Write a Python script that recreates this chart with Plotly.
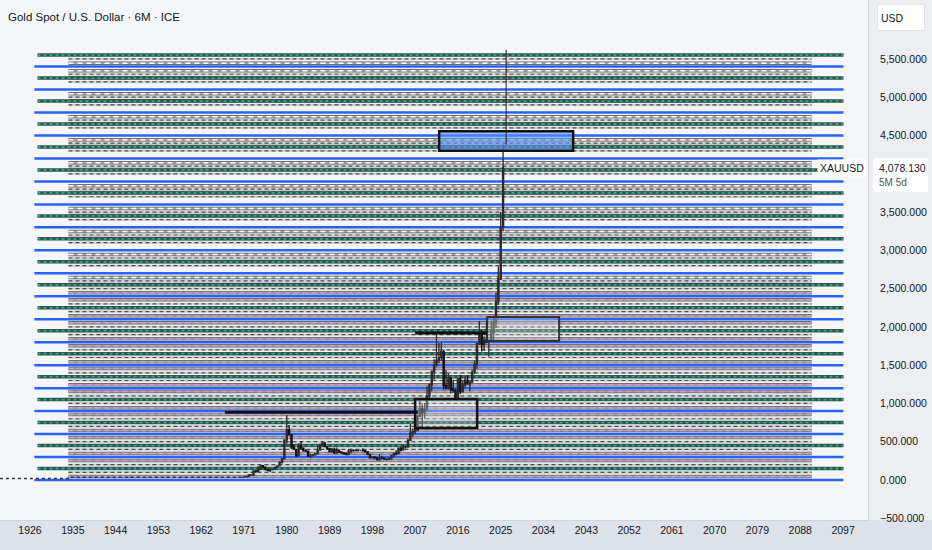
import plotly.graph_objects as go

# --- 6M candles, XAUUSD ---
periods = [
    "1971-01", "1971-07", "1972-01", "1972-07", "1973-01", "1973-07", "1974-01", "1974-07",
    "1975-01", "1975-07", "1976-01", "1976-07", "1977-01", "1977-07", "1978-01", "1978-07",
    "1979-01", "1979-07", "1980-01", "1980-07", "1981-01", "1981-07", "1982-01", "1982-07",
    "1983-01", "1983-07", "1984-01", "1984-07", "1985-01", "1985-07", "1986-01", "1986-07",
    "1987-01", "1987-07", "1988-01", "1988-07", "1989-01", "1989-07", "1990-01", "1990-07",
    "1991-01", "1991-07", "1992-01", "1992-07", "1993-01", "1993-07", "1994-01", "1994-07",
    "1995-01", "1995-07", "1996-01", "1996-07", "1997-01", "1997-07", "1998-01", "1998-07",
    "1999-01", "1999-07", "2000-01", "2000-07", "2001-01", "2001-07", "2002-01", "2002-07",
    "2003-01", "2003-07", "2004-01", "2004-07", "2005-01", "2005-07", "2006-01", "2006-07",
    "2007-01", "2007-07", "2008-01", "2008-07", "2009-01", "2009-07", "2010-01", "2010-07",
    "2011-01", "2011-07", "2012-01", "2012-07", "2013-01", "2013-07", "2014-01", "2014-07",
    "2015-01", "2015-07", "2016-01", "2016-07", "2017-01", "2017-07", "2018-01", "2018-07",
    "2019-01", "2019-07", "2020-01", "2020-07", "2021-01", "2021-07", "2022-01", "2022-07",
    "2023-01", "2023-07", "2024-01", "2024-07", "2025-01", "2025-07",
]
opens = [
    37.4, 40.1, 43.6, 65.1, 64.9, 120.0, 112.3, 143.0, 186.5, 166.3, 140.3, 123.8, 134.5, 143.0,
    164.9, 184.0, 226.0, 277.5, 524.0, 653.0, 589.8, 422.0, 400.0, 315.0, 448.0, 416.0, 382.0,
    377.0, 309.0, 317.0, 327.0, 345.0, 390.0, 448.0, 484.0, 437.0, 410.0, 372.0, 401.0, 352.0,
    386.0, 367.0, 353.0, 343.0, 333.0, 377.0, 391.0, 386.0, 383.0, 387.0, 387.0, 382.0, 369.0,
    334.0, 289.0, 297.0, 288.0, 262.0, 290.0, 288.0, 272.0, 270.0, 277.0, 318.0, 347.0, 346.0,
    416.0, 395.0, 438.0, 437.0, 517.0, 613.0, 632.0, 650.0, 834.0, 928.0, 882.0, 927.0, 1097.0,
    1244.0, 1421.0, 1500.0, 1564.0, 1598.0, 1675.0, 1234.0, 1202.0, 1327.0, 1184.0, 1172.0,
    1061.0, 1322.0, 1152.0, 1242.0, 1303.0, 1253.0, 1282.0, 1409.0, 1517.0, 1781.0, 1898.0,
    1770.0, 1829.0, 1807.0, 1824.0, 1919.0, 2063.0, 2326.0, 2624.0, 3303.0,
]
highs = [
    40.9, 44.2, 66.0, 70.0, 127.0, 127.0, 180.0, 197.5, 186.5, 168.0, 140.5, 137.0, 150.0, 168.0,
    190.0, 245.0, 281.0, 524.0, 850.0, 720.0, 600.0, 462.0, 401.0, 481.0, 511.0, 428.0, 405.0,
    378.0, 340.0, 340.0, 352.0, 442.0, 476.0, 502.0, 485.0, 439.0, 420.0, 418.0, 424.0, 424.0,
    404.0, 369.0, 361.0, 360.0, 406.0, 409.0, 398.0, 397.0, 396.0, 393.0, 416.0, 391.0, 369.0,
    336.0, 315.0, 303.0, 293.0, 338.0, 316.0, 292.0, 273.0, 295.0, 330.0, 350.0, 389.0, 417.0,
    430.0, 457.0, 446.0, 538.0, 730.0, 674.0, 691.0, 845.0, 1033.0, 988.0, 1007.0, 1226.0, 1265.0,
    1431.0, 1577.0, 1921.0, 1791.0, 1796.0, 1697.0, 1434.0, 1392.0, 1345.0, 1308.0, 1191.0,
    1323.0, 1375.0, 1296.0, 1357.0, 1366.0, 1287.0, 1439.0, 1557.0, 1789.0, 2075.0, 1959.0,
    1877.0, 2070.0, 1814.0, 2079.0, 2146.0, 2450.0, 2790.0, 3500.0, 4381.0,
]
lows = [
    37.3, 40.0, 43.5, 60.0, 64.0, 90.0, 112.0, 129.0, 160.0, 128.8, 122.0, 103.0, 128.0, 140.0,
    165.0, 182.0, 216.0, 275.0, 474.0, 588.0, 404.0, 391.0, 297.0, 315.0, 401.0, 372.0, 367.0,
    307.0, 285.0, 311.0, 326.0, 340.0, 390.0, 445.0, 436.0, 395.0, 358.0, 356.0, 345.0, 350.0,
    354.0, 344.0, 336.0, 330.0, 326.0, 343.0, 370.0, 376.0, 372.0, 380.0, 381.0, 367.0, 323.0,
    281.0, 284.0, 270.0, 255.0, 252.0, 270.0, 263.0, 255.0, 263.0, 277.0, 298.0, 319.0, 342.0,
    372.0, 386.0, 411.0, 418.0, 515.0, 560.0, 602.0, 642.0, 820.0, 681.0, 801.0, 904.0, 1044.0,
    1157.0, 1309.0, 1478.0, 1527.0, 1555.0, 1180.0, 1181.0, 1182.0, 1132.0, 1142.0, 1046.0,
    1062.0, 1123.0, 1146.0, 1204.0, 1247.0, 1160.0, 1266.0, 1381.0, 1451.0, 1765.0, 1677.0,
    1690.0, 1787.0, 1614.0, 1804.0, 1810.0, 1985.0, 2286.0, 2614.0, 3247.0,
]
closes = [
    40.1, 43.6, 65.1, 64.9, 120.0, 112.3, 143.0, 186.5, 166.3, 140.3, 123.8, 134.5, 143.0, 164.9,
    184.0, 226.0, 277.5, 524.0, 653.0, 589.8, 422.0, 400.0, 315.0, 448.0, 416.0, 382.0, 377.0,
    309.0, 317.0, 327.0, 345.0, 390.0, 448.0, 484.0, 437.0, 410.0, 372.0, 401.0, 352.0, 386.0,
    367.0, 353.0, 343.0, 333.0, 377.0, 391.0, 386.0, 383.0, 387.0, 387.0, 382.0, 369.0, 334.0,
    289.0, 297.0, 288.0, 262.0, 290.0, 288.0, 272.0, 270.0, 277.0, 318.0, 347.0, 346.0, 416.0,
    395.0, 438.0, 437.0, 517.0, 613.0, 632.0, 650.0, 834.0, 928.0, 882.0, 927.0, 1097.0, 1244.0,
    1421.0, 1500.0, 1564.0, 1598.0, 1675.0, 1234.0, 1202.0, 1327.0, 1184.0, 1172.0, 1061.0,
    1322.0, 1152.0, 1242.0, 1303.0, 1253.0, 1282.0, 1409.0, 1517.0, 1781.0, 1898.0, 1770.0,
    1829.0, 1807.0, 1824.0, 1919.0, 2063.0, 2326.0, 2624.0, 3303.0, 4078.13,
]
last_price = 4078.13

# fixed-price era before the bars start
pre_dates = ["1919-09-01", "1934-01-01", "1934-01-01", "1971-01-01"]
pre_prices = [20.67, 20.67, 35.0, 35.0]

# --- drawn horizontal levels ---
green_levels = [150, 450, 750, 1050, 1350, 1650, 1950, 2250, 2550, 2850, 3150, 3450,
                3750, 4050, 4350, 4650, 4950, 5250, 5550]
blue_levels = [0, 300, 600, 900, 1200, 1500, 1800, 2100, 2400, 2700, 3000, 3300,
               3600, 3900, 4200, 4500, 4800, 5100, 5400]
band_levels_top = [2555, 2645, 2855, 2945, 3155, 3245, 3455, 3545, 3755, 3845, 4055, 4145,
                   4355, 4445, 4655, 4745, 4955, 5045, 5255, 5345, 5445]
band_levels_low = [45, 255, 345, 555, 645, 855, 945, 1155, 1245, 1455, 1545, 1755, 1845,
                   2055, 2145, 2355, 2445]
dash_levels = [100, 200, 400, 500, 700, 800, 1000, 1100, 1300, 1400, 1600, 1700, 1900, 2000,
               2200, 2300, 2500, 2600, 2800, 2900, 3100, 3200, 3400, 3500, 3700, 3800, 4000,
               4100, 4300, 4400, 4600, 4700, 4900, 5000, 5200, 5300, 5500]

# boxes: (x0, x1, y0, y1)
blue_box = ("2012-01-20", "2040-03-25", 4300, 4555)
upper_box = ("2022-02-25", "2037-04-15", 1815, 2130)
lower_box = ("2007-01-01", "2020-01-15", 680, 1058)
# thick black rays: (x0, x1, price)
rays = [("1967-01-01", "2007-08-01", 885), ("2007-01-01", "2022-03-01", 1921)]

year_ticks = ["1926", "1935", "1944", "1953", "1962", "1971", "1980", "1989", "1998", "2007",
              "2016", "2025", "2034", "2043", "2052", "2061", "2070", "2079", "2088", "2097"]
price_ticks = [-500, 0, 500, 1000, 1500, 2000, 2500, 3000, 3500, 4500, 5000, 5500]

FONT = "Liberation Sans, Arial, sans-serif"
TEXT = "#131722"

LONG_X = ("1927-07-30", "2097-02-01")
BLUE_X = ("1926-12-01", "2097-02-01")
SHORT_X = ("1934-02-01", "2090-05-20")

shapes = [
    # bottom time-axis band
    dict(type="rect", xref="paper", yref="paper", x0=0, x1=1.08, y0=-0.06, y1=0,
         fillcolor="#dde1e8", line=dict(width=0), layer="below"),
]


def add_levels(levels, xr, color, width, dash="solid"):
    for lvl in levels:
        shapes.append(dict(type="line", x0=xr[0], x1=xr[1], y0=lvl, y1=lvl, layer="below",
                           line=dict(color=color, width=width, dash=dash)))


# grey dashed lines between the main levels
add_levels(dash_levels, SHORT_X, "#d4d4d4", 2.5)
add_levels(dash_levels, SHORT_X, "#4d4d4d", 1.2, "4px,3px")
add_levels(band_levels_top + band_levels_low, SHORT_X, "#5e5e5e", 3.5)
add_levels(band_levels_top + band_levels_low, SHORT_X, "#a3a3a3", 2)
add_levels(band_levels_top, SHORT_X, "#ffffff", 1.5, "5px,4px")
add_levels(band_levels_low, SHORT_X, "#c9a0dc", 1.5, "5px,4px")
# green and blue levels
add_levels(green_levels, LONG_X, "#33514b", 3.5)
add_levels(green_levels, LONG_X, "#26ad92", 1.8, "dot")
add_levels(blue_levels, BLUE_X, "#2962ff", 2.5)

fig = go.Figure()
fig.add_trace(go.Scatter(x=pre_dates, y=pre_prices, mode="lines", hoverinfo="skip",
                         line=dict(color="#333333", width=1.5, dash="dot")))
fig.add_trace(go.Candlestick(
    x=[p + "-01" for p in periods], open=opens, high=highs, low=lows, close=closes,
    increasing=dict(line=dict(color="#2a2a2a", width=1.3), fillcolor="#9c9c9c"),
    decreasing=dict(line=dict(color="#111111", width=1.3), fillcolor="#111111"),
    whiskerwidth=0, hoverinfo="skip",
))

shapes += [
    dict(type="rect", x0=blue_box[0], x1=blue_box[1], y0=blue_box[2], y1=blue_box[3],
         fillcolor="rgba(90,145,245,0.62)", line=dict(color="#111111", width=2.5), layer="above"),
    dict(type="rect", x0=upper_box[0], x1=upper_box[1], y0=upper_box[2], y1=upper_box[3],
         fillcolor="rgba(215,215,215,0.35)", line=dict(color="#333333", width=2), layer="above"),
    dict(type="rect", x0=lower_box[0], x1=lower_box[1], y0=lower_box[2], y1=lower_box[3],
         fillcolor="rgba(225,225,225,0.3)", line=dict(color="#111111", width=2.5), layer="above"),
    dict(type="line", x0="2026-02-20", x1="2026-02-20", y0=5620, y1=4381,
         line=dict(color="#222222", width=1), layer="above"),
    # price label background
    dict(type="rect", xref="paper", x0=1.006, x1=1.069, y0=3762, y1=4206,
         fillcolor="white", line=dict(width=0), layer="above"),
]
for x0, x1, p in rays:
    shapes.append(dict(type="line", x0=x0, x1=x1, y0=p, y1=p,
                       line=dict(color="#111111", width=3), layer="above"))

annotations = [
    dict(text="Gold Spot / U.S. Dollar · 6M · ICE", xref="paper", yref="paper", x=0, y=0.967,
         xanchor="left", yanchor="middle", xshift=6, showarrow=False,
         font=dict(family=FONT, size=11.5, color=TEXT)),
    dict(text="USD", xref="paper", yref="paper", x=1, y=0.967, xanchor="left", yanchor="middle",
         xshift=9, showarrow=False, bgcolor="white", bordercolor="#e0e3eb", borderwidth=1,
         borderpad=3, width=40, height=19, align="left",
         font=dict(family=FONT, size=10.5, color=TEXT)),
    dict(text="XAUUSD", xref="paper", yref="y", x=1, y=last_price, xanchor="right",
         yanchor="middle", xshift=-1, showarrow=False, bgcolor="white", borderpad=2,
         font=dict(family=FONT, size=10.5, color=TEXT)),
    dict(text=f"{last_price:,.3f}", xref="paper", yref="y", x=1, y=last_price, xanchor="left",
         yanchor="middle", xshift=9, showarrow=False,
         font=dict(family=FONT, size=10.5, color=TEXT)),
    dict(text="5M 5d", xref="paper", yref="y", x=1, y=last_price, xanchor="left",
         yanchor="middle", xshift=9, yshift=-15, showarrow=False,
         font=dict(family=FONT, size=10, color="#555555")),
]

fig.update_layout(
    width=932, height=550,
    margin=dict(l=0, r=64, t=0, b=30),
    paper_bgcolor="#eceef2", plot_bgcolor="#f5f6f8",
    showlegend=False, hovermode=False,
    font=dict(family=FONT, size=10.5, color=TEXT),
    shapes=shapes, annotations=annotations,
    xaxis=dict(type="date", range=["1919-09-10", "2102-04-01"], rangeslider=dict(visible=False),
               tickvals=[y + "-01-01" for y in year_ticks], ticktext=year_ticks,
               showgrid=False, zeroline=False, showline=True, linecolor="#d1d4dc",
               ticks="", tickfont=dict(family=FONT, size=10.5, color=TEXT)),
    yaxis=dict(side="right", range=[-522.5, 6270], tickvals=price_ticks, tickformat=",.3f",
               showgrid=False, zeroline=False, showline=True, linecolor="#d1d4dc",
               ticks="", ticklabelstandoff=9, tickfont=dict(family=FONT, size=10.5, color=TEXT)),
)

# no default page margin, so the figure sits flush in the window
fig.write_html("out.html", config={"displayModeBar": False},
               post_script="document.body.style.margin='0';")
